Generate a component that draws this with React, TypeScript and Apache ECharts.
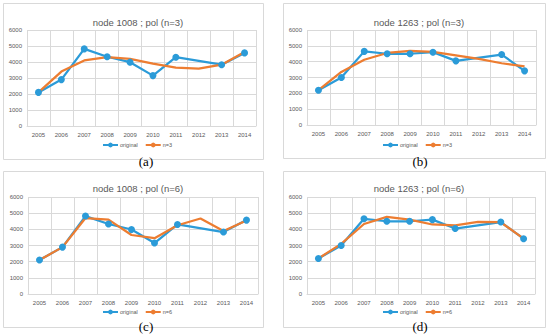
import React, { useEffect, useRef } from "react";
import * as echarts from "echarts";

const years = ["2005", "2006", "2007", "2008", "2009", "2010", "2011", "2012", "2013", "2014"];

const orig1008 = [2100, 2900, 4820, 4330, 3990, 3150, 4300, null, 3830, 4570];
const orig1263 = [2200, 3000, 4650, 4500, 4500, 4600, 4050, null, 4450, 3420];

const n3_1008 = [2100, 3400, 4100, 4300, 4200, 3900, 3650, 3580, 3830, 4620];
const n3_1263 = [2200, 3350, 4120, 4550, 4680, 4620, 4400, 4170, 3900, 3700];
const n6_1008 = [2100, 2900, 4700, 4600, 3650, 3450, 4250, 4670, 3900, 4550];
const n6_1263 = [2200, 3100, 4330, 4770, 4600, 4300, 4250, 4460, 4440, 3430];

const titles = ["node 1008 ; pol (n=3)", "node 1263 ; pol (n=3)", "node 1008 ; pol (n=6)", "node 1263 ; pol (n=6)"];
const fitNames = ["n=3", "n=3", "n=6", "n=6"];
const panelLabels = ["(a)", "(b)", "(c)", "(d)"];

const BLUE = "#2B9BD8";
const ORANGE = "#ED7D31";
const GRAY = "#595959";
const GRID = "#d9d9d9";

export default function App() {
  const ref = useRef<HTMLDivElement>(null);
  useEffect(() => {
    if (!ref.current) return;
    const chart = echarts.init(ref.current, undefined, { renderer: "svg" });
    const origs = [orig1008, orig1263, orig1008, orig1263];
    const fits = [n3_1008, n3_1263, n6_1008, n6_1263];
    const boxes = [
      { x: 3, y: 3, w: 260, h: 156 },
      { x: 283, y: 3, w: 262, h: 155 },
      { x: 3, y: 171, w: 260, h: 156 },
      { x: 283, y: 171, w: 262, h: 156 },
    ];
    const grids = [
      { left: 27, top: 30, width: 229, height: 96 },
      { left: 307, top: 30, width: 229, height: 95 },
      { left: 28, top: 197, width: 230, height: 97 },
      { left: 307, top: 197, width: 228, height: 97 },
    ];
    const titleY = [12, 12, 178, 178];
    const legendY = [142, 142, 309, 309];
    const legendLeft = [102, 382, 102, 382];
    const labelPos = [
      { x: 146, y: 161 },
      { x: 420, y: 161 },
      { x: 146, y: 326 },
      { x: 420, y: 326 },
    ];
    const font = "'Liberation Sans', Arial, sans-serif";

    const option: any = {
      animation: false,
      backgroundColor: "#fff",
      title: titles.map((t, i) => ({
        text: t,
        left: boxes[i].x + boxes[i].w / 2,
        top: titleY[i],
        textAlign: "center",
        textStyle: { fontSize: 9.5, fontWeight: "normal", color: GRAY, fontFamily: font },
      })),
      legend: titles.map((_, i) => ({
        data: [`original${i}`, `fit${i}`],
        left: legendLeft[i],
        top: legendY[i],
        padding: 0,
        itemWidth: 15,
        itemHeight: 6,
        itemGap: 7,
        formatter: (name: string) => (name.startsWith("original") ? "original" : fitNames[i]),
        textStyle: { fontSize: 5.5, color: GRAY, fontFamily: font, padding: [0, 0, 0, -3] },
      })),
      grid: grids.map((g) => ({ ...g, containLabel: false })),
      xAxis: grids.map((_, i) => ({
        type: "category",
        gridIndex: i,
        data: years,
        boundaryGap: true,
        axisLine: { show: true, lineStyle: { color: GRID } },
        axisTick: { show: false },
        splitLine: { show: true, lineStyle: { color: GRID, width: 1 } },
        axisLabel: { fontSize: 6, color: GRAY, fontFamily: font, margin: 6 },
      })),
      yAxis: grids.map((_, i) => ({
        type: "value",
        gridIndex: i,
        min: 0,
        max: 6000,
        interval: 1000,
        axisLine: { show: false },
        axisTick: { show: false },
        splitLine: { lineStyle: { color: GRID, width: 1 } },
        axisLabel: {
          fontSize: 6,
          color: GRAY,
          fontFamily: font,
          margin: 5,
          formatter: (v: number) => String(v),
        },
      })),
      series: [] as any[],
      graphic: [
        ...boxes.map((b) => ({
          type: "rect",
          shape: { x: b.x + 0.5, y: b.y + 0.5, width: b.w, height: b.h },
          style: { fill: "none", stroke: GRID, lineWidth: 1 },
          z: -1,
          silent: true,
        })),
        ...panelLabels.map((t, i) => ({
          type: "text",
          x: labelPos[i].x,
          y: labelPos[i].y,
          style: {
            text: t,
            fill: "#000",
            font: "13px 'Liberation Serif', 'Times New Roman', serif",
            align: "center",
            verticalAlign: "middle",
          },
          z: 10,
        })),
      ],
    };

    for (let i = 0; i < 4; i++) {
      option.series.push({
        name: `original${i}`,
        type: "line",
        xAxisIndex: i,
        yAxisIndex: i,
        data: origs[i],
        connectNulls: true,
        symbol: "circle",
        symbolSize: 7,
        color: BLUE,
        lineStyle: { width: 2.25, color: BLUE },
        itemStyle: { color: BLUE },
      });
      option.series.push({
        name: `fit${i}`,
        type: "line",
        xAxisIndex: i,
        yAxisIndex: i,
        data: fits[i],
        showSymbol: false,
        symbol: "none",
        color: ORANGE,
        lineStyle: { width: 2.25, color: ORANGE },
        itemStyle: { color: ORANGE },
      });
    }

    chart.setOption(option);
    return () => chart.dispose();
  }, []);
  return (
    <div
      ref={ref}
      style={{ position: "fixed", left: 0, top: 0, width: 550, height: 335, background: "#fff" }}
    />
  );
}
